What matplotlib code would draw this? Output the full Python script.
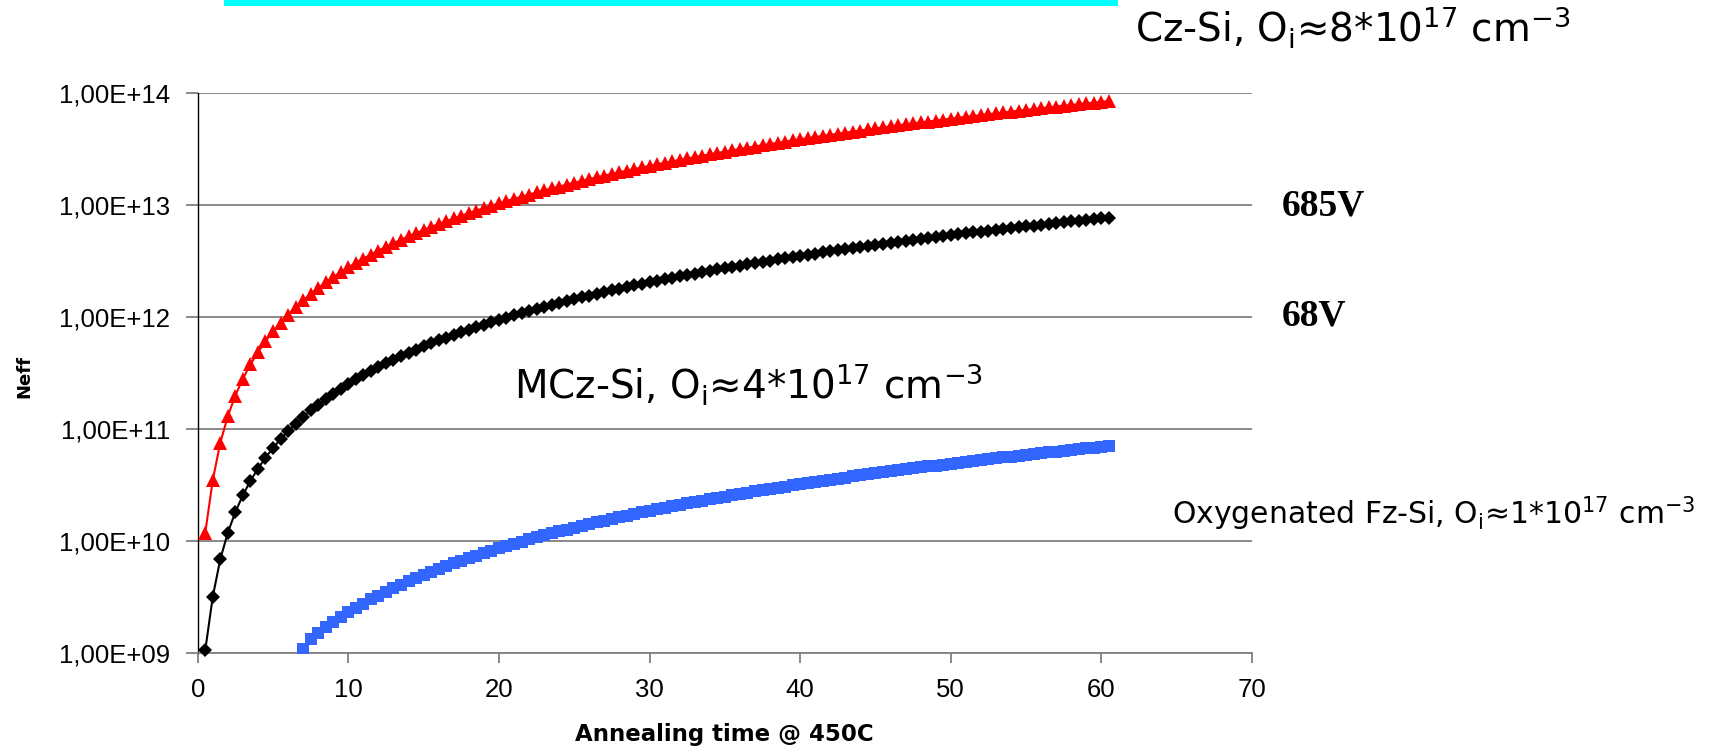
import numpy as np
import matplotlib
matplotlib.use("Agg")
import matplotlib.pyplot as plt
from matplotlib.ticker import FixedLocator, FuncFormatter, NullLocator
from matplotlib.patches import Rectangle

# annealing times (every 0.5 up to 60.5)
time_h = np.arange(0.5, 60.51, 0.5)

# Cz-Si (red triangles)
neff_cz = [
    1.17e10, 3.47e10, 7.49e10, 1.294e11, 1.978e11, 2.796e11, 3.747e11, 4.83e11, 6.04e11, 7.38e11,
    8.85e11, 1.043e12, 1.215e12, 1.399e12, 1.594e12, 1.802e12, 2.022e12, 2.254e12, 2.498e12, 2.754e12,
    3.022e12, 3.302e12, 3.592e12, 3.894e12, 4.208e12, 4.535e12, 4.871e12, 5.22e12, 5.58e12, 5.95e12,
    6.33e12, 6.73e12, 7.13e12, 7.55e12, 7.98e12, 8.41e12, 8.86e12, 9.32e12, 9.80e12, 1.028e13,
    1.077e13, 1.128e13, 1.179e13, 1.232e13, 1.286e13, 1.341e13, 1.396e13, 1.453e13, 1.511e13, 1.571e13,
    1.631e13, 1.692e13, 1.755e13, 1.818e13, 1.882e13, 1.948e13, 2.015e13, 2.083e13, 2.151e13, 2.221e13,
    2.292e13, 2.364e13, 2.437e13, 2.511e13, 2.586e13, 2.662e13, 2.739e13, 2.817e13, 2.896e13, 2.976e13,
    3.058e13, 3.140e13, 3.224e13, 3.308e13, 3.394e13, 3.480e13, 3.567e13, 3.656e13, 3.745e13, 3.836e13,
    3.928e13, 4.020e13, 4.114e13, 4.209e13, 4.305e13, 4.401e13, 4.499e13, 4.597e13, 4.697e13, 4.798e13,
    4.900e13, 5.002e13, 5.106e13, 5.212e13, 5.317e13, 5.424e13, 5.531e13, 5.640e13, 5.750e13, 5.861e13,
    5.973e13, 6.086e13, 6.200e13, 6.314e13, 6.430e13, 6.547e13, 6.665e13, 6.783e13, 6.903e13, 7.024e13,
    7.146e13, 7.268e13, 7.392e13, 7.517e13, 7.643e13, 7.768e13, 7.897e13, 8.025e13, 8.155e13, 8.286e13,
    8.417e13,
]

# MCz-Si (black diamonds)
neff_mcz = [
    1.05e9, 3.16e9, 6.83e9, 1.18e10, 1.80e10, 2.55e10, 3.42e10, 4.40e10, 5.51e10, 6.73e10,
    8.07e10, 9.51e10, 1.108e11, 1.276e11, 1.454e11, 1.643e11, 1.844e11, 2.056e11, 2.278e11, 2.512e11,
    2.756e11, 3.011e11, 3.276e11, 3.551e11, 3.838e11, 4.136e11, 4.442e11, 4.761e11, 5.089e11, 5.426e11,
    5.773e11, 6.138e11, 6.503e11, 6.885e11, 7.278e11, 7.670e11, 8.080e11, 8.500e11, 8.938e11, 9.375e11,
    9.822e11, 1.029e12, 1.075e12, 1.124e12, 1.173e12, 1.223e12, 1.273e12, 1.325e12, 1.378e12, 1.433e12,
    1.487e12, 1.543e12, 1.601e12, 1.658e12, 1.716e12, 1.777e12, 1.838e12, 1.900e12, 1.962e12, 2.026e12,
    2.090e12, 2.156e12, 2.222e12, 2.290e12, 2.358e12, 2.428e12, 2.498e12, 2.569e12, 2.641e12, 2.714e12,
    2.789e12, 2.864e12, 2.940e12, 3.017e12, 3.095e12, 3.174e12, 3.253e12, 3.334e12, 3.415e12, 3.498e12,
    3.582e12, 3.666e12, 3.752e12, 3.839e12, 3.926e12, 4.014e12, 4.103e12, 4.192e12, 4.284e12, 4.376e12,
    4.469e12, 4.562e12, 4.657e12, 4.753e12, 4.849e12, 4.947e12, 5.044e12, 5.144e12, 5.244e12, 5.345e12,
    5.447e12, 5.550e12, 5.654e12, 5.758e12, 5.864e12, 5.971e12, 6.078e12, 6.186e12, 6.295e12, 6.406e12,
    6.517e12, 6.628e12, 6.741e12, 6.855e12, 6.970e12, 7.084e12, 7.202e12, 7.319e12, 7.437e12, 7.557e12,
    7.676e12,
]

# Oxygenated Fz-Si (blue squares), starts at t = 6.5
fz_first = 12
neff_fz = [
    8.6e8, 1.08e9, 1.326e9, 1.499e9, 1.682e9, 1.875e9, 2.078e9, 2.291e9,
    2.514e9, 2.747e9, 2.988e9, 3.240e9, 3.501e9, 3.773e9, 4.052e9, 4.343e9, 4.642e9, 4.950e9,
    5.266e9, 5.599e9, 5.932e9, 6.281e9, 6.639e9, 6.997e9, 7.371e9, 7.754e9, 8.153e9, 8.552e9,
    8.960e9, 9.384e9, 9.809e9, 1.025e10, 1.070e10, 1.116e10, 1.161e10, 1.209e10, 1.257e10, 1.307e10,
    1.357e10, 1.408e10, 1.460e10, 1.512e10, 1.566e10, 1.621e10, 1.676e10, 1.733e10, 1.790e10, 1.848e10,
    1.907e10, 1.967e10, 2.027e10, 2.089e10, 2.151e10, 2.215e10, 2.279e10, 2.344e10, 2.409e10, 2.476e10,
    2.544e10, 2.612e10, 2.682e10, 2.752e10, 2.824e10, 2.895e10, 2.968e10, 3.042e10, 3.116e10, 3.191e10,
    3.268e10, 3.344e10, 3.423e10, 3.502e10, 3.581e10, 3.661e10, 3.743e10, 3.824e10, 3.908e10, 3.992e10,
    4.077e10, 4.161e10, 4.248e10, 4.336e10, 4.423e10, 4.512e10, 4.601e10, 4.692e10, 4.784e10, 4.876e10,
    4.969e10, 5.063e10, 5.158e10, 5.253e10, 5.349e10, 5.447e10, 5.545e10, 5.643e10, 5.743e10, 5.844e10,
    5.945e10, 6.047e10, 6.150e10, 6.254e10, 6.359e10, 6.463e10, 6.570e10, 6.676e10, 6.785e10, 6.894e10,
    7.003e10,
]

x_ticks = [0, 10, 20, 30, 40, 50, 60, 70]
y_ticks = [1e9, 1e10, 1e11, 1e12, 1e13, 1e14]

W, H = 1716, 751
fig = plt.figure(figsize=(W / 100, H / 100), dpi=100)
ax = fig.add_axes([197.7 / W, 1 - 652.7 / H, (1252 - 197.7) / W, (652.7 - 92.7) / H])

grey = "#808080"
ax.plot(time_h, neff_cz, color="red", lw=1.5, marker="^", ms=10,
        mfc="red", mec="red", mew=0, clip_on=False, zorder=3)
ax.plot(time_h, neff_mcz, color="black", lw=1.5, marker="D", ms=6.8,
        mfc="black", mec="black", mew=0, clip_on=False, zorder=3)
ax.plot(time_h[fz_first:], neff_fz, color="#3366ff", lw=1.2, marker="s", ms=8.5,
        mfc="#3366ff", mec="#3366ff", mew=0, zorder=3)

ax.set_yscale("log")
ax.set_ylim(1e9, 1e14)
ax.set_xlim(0, 70)
ax.yaxis.set_major_locator(FixedLocator(y_ticks))
ax.yaxis.set_minor_locator(NullLocator())
ax.yaxis.set_major_formatter(FuncFormatter(lambda v, p: f"{v:.2E}".replace(".", ",")))
ax.xaxis.set_major_locator(FixedLocator(x_ticks))

ax.yaxis.grid(True, color=grey, lw=1.3)
ax.set_axisbelow(True)
for s in ["top", "right"]:
    ax.spines[s].set_visible(False)
ax.spines["left"].set_color("black")
ax.spines["left"].set_linewidth(1.0)
ax.spines["bottom"].set_color(grey)
ax.spines["bottom"].set_linewidth(1.3)
ax.tick_params(axis="y", length=9, width=1.3, color=grey, labelsize=18.5, pad=11)
ax.tick_params(axis="x", length=7, width=1.3, color=grey, labelsize=18.5, pad=11)
for lab in ax.get_xticklabels() + ax.get_yticklabels():
    lab.set_family("Liberation Sans")

# axis titles
fig.text(24 / W, 1 - 376 / H, "Neff", rotation=90, fontsize=13, fontweight="bold",
         ha="center", va="center")
fig.text(724 / W, 1 - 734 / H, "Annealing time @ 450C", fontsize=16.5, fontweight="bold",
         ha="center", va="center")

# cyan bar at the top
fig.add_artist(Rectangle((224 / W, 1 - 6 / H), (1118 - 224) / W, 6 / H,
                         transform=fig.transFigure, color="#00ffff", lw=0))

# annotations
ann = dict(ha="left", va="center", fontsize=28)
fig.text(1135 / W, 1 - 27 / H,
         r"Cz-Si, O$_\mathregular{i}$≈8*10$^\mathregular{17}$ cm$^\mathregular{-3}$", **ann)
fig.text(514 / W, 1 - 384 / H,
         r"MCz-Si, O$_\mathregular{i}$≈4*10$^\mathregular{17}$ cm$^\mathregular{-3}$", **ann)
fig.text(1172 / W, 1 - 514 / H,
         r"Oxygenated Fz-Si, O$_\mathregular{i}$≈1*10$^\mathregular{17}$ cm$^\mathregular{-3}$",
         ha="left", va="center", fontsize=21.5)

volt = dict(ha="left", va="center", fontsize=27, fontweight="bold", family="Liberation Serif")
fig.text(1282 / W, 1 - 206 / H, "685V", **volt)
fig.text(1282 / W, 1 - 316 / H, "68V", **volt)

fig.savefig("out.png", dpi=100)
